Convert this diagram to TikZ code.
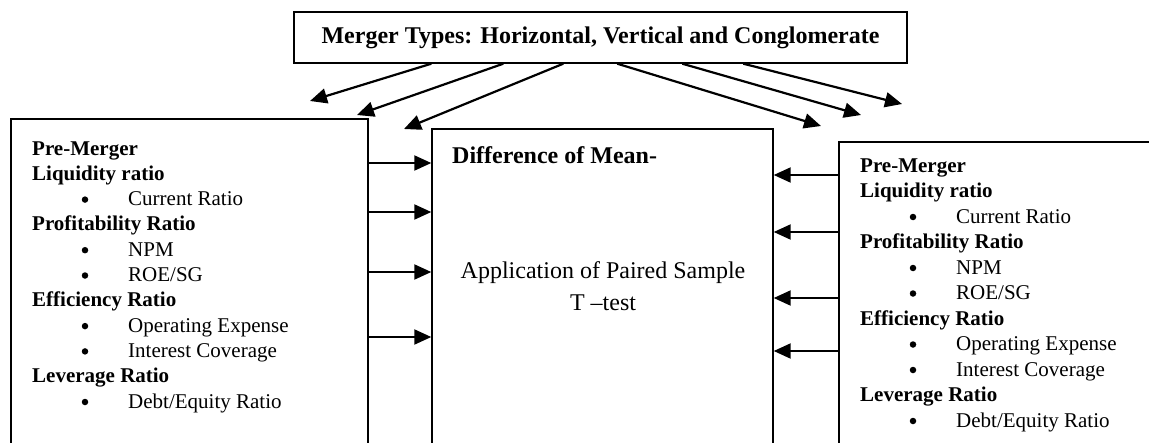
\documentclass[tikz,border=0pt]{standalone}
\usepackage{fontspec}
\setmainfont{Liberation Serif}
\usetikzlibrary{arrows.meta}
\tikzset{
  boxframe/.style={draw, line width=1.4pt, rectangle, inner sep=0pt},
  flowarrow/.style={line width=2.2pt, -{Triangle[length=17pt,width=15pt]}},
  headtxt/.style={anchor=base west, inner sep=0pt, font=\fontsize{21}{25}\selectfont\bfseries},
  itemtxt/.style={anchor=base west, inner sep=0pt, font=\fontsize{21}{25}\selectfont},
  bulletdot/.style={circle, fill=black, inner sep=0pt, minimum size=6.5pt},
}
\begin{document}
\begin{tikzpicture}[x=1pt,y=-1pt]
\useasboundingbox (0,0) rectangle (1149,442);
\clip (0,0) rectangle (1149,442);

% boxes
\node[boxframe, minimum width=613pt, minimum height=51pt,
      font=\fontsize{24}{28}\selectfont\bfseries] (top) at (600.5,37.5)
      {Merger Types: Horizontal, Vertical and Conglomerate};
\node[boxframe, minimum width=357pt, minimum height=341pt] (left) at (189.5,289.5) {};
\node[boxframe, minimum width=341pt, minimum height=331pt] (mid) at (602.5,294.5) {};
\node[boxframe, minimum width=341pt, minimum height=318pt] (right) at (1009.5,301) {};

% left box text
\foreach \k/\t in {0/Pre-Merger,1/Liquidity ratio,3/Profitability Ratio,6/Efficiency Ratio,9/Leverage Ratio}
  \node[headtxt] (lh\k) at (32,{155+25.3*\k}) {\t};
\foreach \k/\t in {2/Current Ratio,4/NPM,5/ROE\slash SG,7/Operating Expense,8/Interest Coverage,10/Debt\slash Equity Ratio}{
  \node[bulletdot] (lb\k) at (85,{155+25.3*\k-6}) {};
  \node[itemtxt] (li\k) at (128,{155+25.3*\k}) {\t};
}

% right box text
\foreach \k/\t in {0/Pre-Merger,1/Liquidity ratio,3/Profitability Ratio,6/Efficiency Ratio,9/Leverage Ratio}
  \node[headtxt] (rh\k) at (860,{172+25.5*\k}) {\t};
\foreach \k/\t in {2/Current Ratio,4/NPM,5/ROE\slash SG,7/Operating Expense,8/Interest Coverage,10/Debt\slash Equity Ratio}{
  \node[bulletdot] (rb\k) at (913,{172+25.5*\k-6}) {};
  \node[itemtxt] (ri\k) at (956,{172+25.5*\k}) {\t};
}

% middle box text
\node[anchor=base west, inner sep=0pt, font=\fontsize{24}{28}\selectfont\bfseries] (mt) at (452,163) {Difference of Mean-};
\node[anchor=base, inner sep=0pt, font=\fontsize{24}{28}\selectfont] (ma) at (603,278) {Application of Paired Sample};
\node[anchor=base, inner sep=0pt, font=\fontsize{24}{28}\selectfont] (mb) at (603,310) {T \textendash test};

% free arrow ends
\coordinate (e1) at (310,101);
\coordinate (e2) at (357,115);
\coordinate (e3) at (404,129);
\coordinate (e4) at (821,126);
\coordinate (e5) at (861,115);
\coordinate (e6) at (902,104);

\draw[flowarrow] ([xshift=138pt]top.south west) -- (e1);
\draw[flowarrow] ([xshift=210pt]top.south west) -- (e2);
\draw[flowarrow] ([xshift=270pt]top.south west) -- (e3);
\draw[flowarrow] ([xshift=324pt]top.south west) -- (e4);
\draw[flowarrow] ([xshift=389pt]top.south west) -- (e5);
\draw[flowarrow] ([xshift=450pt]top.south west) -- (e6);

% horizontal arrows
\foreach \yy in {163,212,272,337}
  \draw[flowarrow, line width=2pt] (left.east |- 0,\yy) -- (mid.west |- 0,\yy);
\foreach \yy in {175,232,298,351}
  \draw[flowarrow, line width=2pt] (right.west |- 0,\yy) -- (mid.east |- 0,\yy);
\end{tikzpicture}
\end{document}
